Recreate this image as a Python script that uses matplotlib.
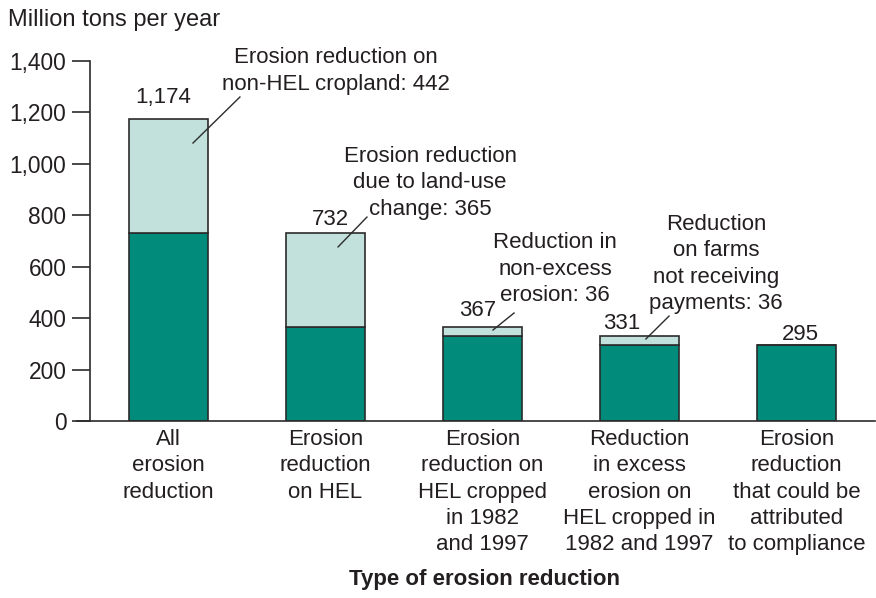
import matplotlib
matplotlib.use("Agg")
import matplotlib.pyplot as plt

plt.rcParams['font.family'] = ['Liberation Sans', 'DejaVu Sans']

categories = ["All\nerosion\nreduction",
              "Erosion\nreduction\non HEL",
              "Erosion\nreduction on\nHEL cropped\nin 1982\nand 1997",
              "Reduction\nin excess\nerosion on\nHEL cropped in\n1982 and 1997",
              "Erosion\nreduction\nthat could be\nattributed\nto compliance"]
base_values = [732, 367, 331, 295, 295]
top_values = [442, 365, 36, 36, 0]
total_labels = ["1,174", "732", "367", "331", "295"]
annot_texts = ["Erosion reduction on\nnon-HEL cropland: 442",
               "Erosion reduction\ndue to land-use\nchange: 365",
               "Reduction in\nnon-excess\nerosion: 36",
               "Reduction\non farms\nnot receiving\npayments: 36"]
yticks = [0, 200, 400, 600, 800, 1000, 1200, 1400]
ytick_labels = ["0", "200", "400", "600", "800", "1,000", "1,200", "1,400"]

DARK = "#008B7A"
LIGHT = "#C2E1DC"
EDGE = "#2b2b2b"
TXT = "#231f20"
FS = 16
LS = 1.33

fig = plt.figure(figsize=(8.76, 5.98), dpi=100)
ax = fig.add_axes([90/876, 1-421/598, 785/876, 360/598])

x = list(range(len(categories)))
ax.bar(x, base_values, width=0.503, color=DARK, edgecolor=EDGE, linewidth=1.2, zorder=2)
ax.bar(x, top_values, bottom=base_values, width=0.503, color=LIGHT, edgecolor=EDGE,
       linewidth=1.2, zorder=2)

ax.set_xlim(-0.5, 4.5)
ax.set_ylim(0, 1400)
ax.set_yticks(yticks)
ax.set_yticklabels(ytick_labels, fontsize=16.4, color=TXT)
ax.tick_params(axis='y', direction='out', length=13, width=1.2, color=EDGE, pad=4)
ax.set_xticks([])
for s in ['top', 'right']:
    ax.spines[s].set_visible(False)
ax.spines['left'].set_linewidth(1.2)
ax.spines['left'].set_color(EDGE)
ax.spines['bottom'].set_visible(False)
# baseline extending left of the spine
ax.plot([-0.585, 4.5], [0, 0], color=EDGE, lw=1.2, clip_on=False, zorder=3)

# category labels
for i, c in enumerate(categories):
    ax.annotate(c, xy=(i, 0), xytext=(0, -8), textcoords='offset pixels',
                ha='center', va='top', fontsize=FS, color=TXT, linespacing=LS,
                annotation_clip=False)

# total labels
label_offsets = [(-5, 22), (5, 13), (-5, 16), (-18, 12), (4, 11)]
totals = [b + t for b, t in zip(base_values, top_values)]
for i, (lab, tot, off) in enumerate(zip(total_labels, totals, label_offsets)):
    ax.annotate(lab, xy=(i, tot), xytext=off, textcoords='offset pixels',
                ha='center', va='center', fontsize=FS, color=TXT)

# callouts
text_pos = [(1.067, 1361), (1.666, 926), (2.462, 591), (3.487, 611)]
leaders = [((0.455, 1260), (0.156, 1081)),
           ((1.264, 793), (1.080, 677)),
           ((2.201, 420), (2.067, 354)),
           ((3.188, 408), (3.041, 319))]
for t, p, (a, b) in zip(annot_texts, text_pos, leaders):
    ax.text(p[0], p[1], t, ha='center', va='center', fontsize=FS, color=TXT,
            linespacing=LS)
    ax.plot([a[0], b[0]], [a[1], b[1]], color=EDGE, lw=1.0, zorder=4)

fig.text(8/876, 1-20/598, "Million tons per year", ha='left', va='center',
         fontsize=17, color=TXT)
fig.text(485/876, 1-579/598, "Type of erosion reduction", ha='center', va='center',
         fontsize=FS, fontweight='bold', color=TXT)

fig.savefig("out.png", dpi=100)
